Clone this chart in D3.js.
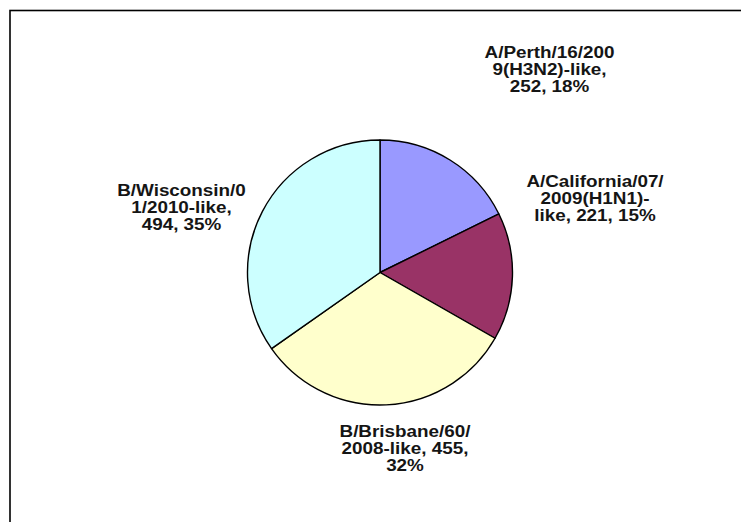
<!DOCTYPE html>
<html>
<head>
<meta charset="utf-8">
<script src="https://cdn.jsdelivr.net/npm/d3@7"></script>
<style>
  html, body { margin: 0; padding: 0; background: #fff; }
  svg { display: block; }
</style>
</head>
<body>
<svg id="chart" width="741" height="522"></svg>
<script>
// ---- data ----
const categories = [
  "A/Perth/16/2009(H3N2)-like",
  "A/California/07/2009(H1N1)-like",
  "B/Brisbane/60/2008-like",
  "B/Wisconsin/01/2010-like"
];
const values = [252, 221, 455, 494];
const percentLabels = ["18%", "15%", "32%", "35%"];
const labelLines = [
  ["A/Perth/16/200", "9(H3N2)-like,", "252, 18%"],
  ["A/California/07/", "2009(H1N1)-", "like, 221, 15%"],
  ["B/Brisbane/60/", "2008-like, 455,", "32%"],
  ["B/Wisconsin/0", "1/2010-like,", "494, 35%"]
];
const colors = ["#9999FF", "#993366", "#FFFFCC", "#CCFFFF"];

// ---- layout (not data) ----
const W = 741, H = 522;
const cx = 380, cy = 272.5, R = 132.5;
const labelAnchors = [
  {x: 549.5, y: 57.5},
  {x: 595, y: 187},
  {x: 405, y: 437},
  {x: 181.5, y: 195.5}
];
const lineGap = 17.2;
const fontSize = 17;
const stretch = 1.11;

const svg = d3.select("#chart");

// frame (only top & left edges visible in the window)
svg.append("rect")
  .attr("x", 10).attr("y", 10.5)
  .attr("width", W + 50).attr("height", H + 50)
  .attr("fill", "#fff")
  .attr("stroke", "#000")
  .attr("stroke-width", 1.6);

const data = categories.map((c, i) => ({
  category: c, value: values[i], pct: percentLabels[i], lines: labelLines[i], color: colors[i]
}));

const pie = d3.pie().value(d => d.value).sort(null);
const arc = d3.arc().innerRadius(0).outerRadius(R);

const g = svg.append("g").attr("transform", `translate(${cx},${cy})`);
g.selectAll("path")
  .data(pie(data))
  .join("path")
  .attr("d", arc)
  .attr("fill", d => d.data.color)
  .attr("stroke", "#000")
  .attr("stroke-width", 1.4)
  .attr("stroke-linejoin", "round");

const labels = svg.selectAll("g.lbl")
  .data(data)
  .join("g")
  .attr("class", "lbl")
  .attr("transform", (d, i) => `translate(${labelAnchors[i].x},${labelAnchors[i].y}) scale(${stretch},1)`);

labels.each(function(d) {
  const t = d3.select(this).append("text")
    .attr("text-anchor", "middle")
    .attr("font-family", "'Liberation Sans', Arial, sans-serif")
    .attr("font-weight", "bold")
    .attr("font-size", fontSize)
    .attr("fill", "#151515");
  d.lines.forEach((ln, j) => {
    t.append("tspan").attr("x", 0).attr("y", j * lineGap).text(ln);
  });
});
</script>
</body>
</html>
